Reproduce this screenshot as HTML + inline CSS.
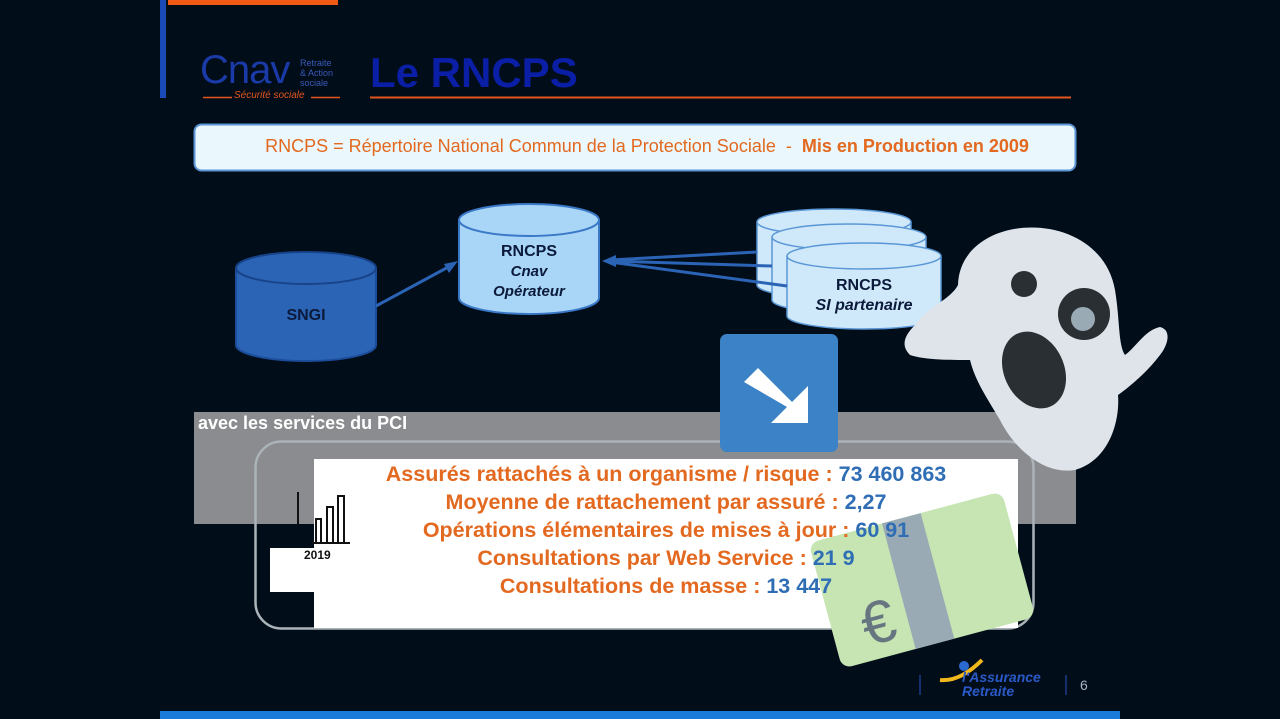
<!DOCTYPE html>
<html><head><meta charset="utf-8"><style>
html,body{margin:0;padding:0;background:#020d1a;}
body{width:1280px;height:719px;position:relative;overflow:hidden;font-family:"Liberation Sans",Arial,sans-serif;}
.a{position:absolute;}
.stats{position:absolute;left:294px;top:460px;width:744px;text-align:center;font-weight:bold;font-size:21.5px;line-height:28px;color:#e2691f;}
.stats b{color:#2f6db5;}
</style></head><body>
<svg class="a" style="left:0;top:0" width="1280" height="719" viewBox="0 0 1280 719">
<rect x="168" y="0" width="170" height="5" fill="#f05a14"/>
<rect x="160" y="0" width="6" height="98" fill="#1a49b8"/>
<line x1="370" y1="97.5" x2="1071" y2="97.5" stroke="#e2561c" stroke-width="2"/>
<line x1="203" y1="97.5" x2="232" y2="97.5" stroke="#e2561c" stroke-width="1.5"/>
<line x1="311" y1="97.5" x2="340" y2="97.5" stroke="#e2561c" stroke-width="1.5"/>
<rect x="194.5" y="124.5" width="881" height="46" rx="7" fill="#eaf7fc" stroke="#5b95d6" stroke-width="2"/>
<path d="M236 268 V345 A70 16 0 0 0 376 345 V268" fill="#2c64b5" stroke="#1b4d9a" stroke-width="2"/>
<ellipse cx="306" cy="268" rx="70" ry="16" fill="#2c64b5" stroke="#17438a" stroke-width="2"/>
<path d="M459 220 V298 A70 16 0 0 0 599 298 V220" fill="#a9d5f6" stroke="#3a78c8" stroke-width="2"/>
<ellipse cx="529" cy="220" rx="70" ry="16" fill="#a9d5f6" stroke="#3a78c8" stroke-width="2"/>
<g fill="#cfe9fb" stroke="#5a97d6" stroke-width="1.5">
<path d="M757 222 V285 A77 13 0 0 0 911 285 V222"/><ellipse cx="834" cy="222" rx="77" ry="13"/>
<path d="M772 237 V300 A77 13 0 0 0 926 300 V237"/><ellipse cx="849" cy="237" rx="77" ry="13"/>
<path d="M787 256 V316 A77 13 0 0 0 941 316 V256"/><ellipse cx="864" cy="256" rx="77" ry="13"/>
</g>
<g stroke="#2c64b5" stroke-width="3" fill="none">
<line x1="376" y1="306" x2="452" y2="265"/>
<line x1="757" y1="252" x2="610" y2="260"/>
<line x1="772" y1="266" x2="610" y2="261"/>
<line x1="787" y1="286" x2="610" y2="262"/>
</g>
<polygon points="458,261 444,264 449,273" fill="#2c64b5"/>
<polygon points="602,261 616,255 616,267" fill="#2c64b5"/>
<rect x="194" y="412" width="882" height="112" fill="#8a8c8f"/>
<rect x="255.5" y="441.5" width="778" height="187" rx="26" fill="none" stroke="#a9b3b8" stroke-width="2.5"/>
<rect x="314" y="459" width="704" height="169" fill="#fff"/>
<rect x="270" y="548" width="44" height="44" fill="#fff"/>
<g stroke="#111" stroke-width="2" fill="none">
<line x1="298" y1="492" x2="298" y2="524"/>
<rect x="316" y="519" width="5" height="24"/><rect x="327" y="507" width="6" height="36"/><rect x="338" y="496" width="6" height="47"/>
<line x1="312" y1="543" x2="350" y2="543"/>
</g>
<rect x="720" y="334" width="118" height="118" rx="7" fill="#3b82c6"/>
<polygon points="744,382 758,368 792,402 808,386 808,423 771,423 787,407" fill="#fff"/>
<path d="M958 285 C960 210 1100 205 1115 290 C1120 320 1118 345 1125 355 C1135 348 1145 330 1160 327 C1172 330 1168 345 1160 355 C1145 375 1125 390 1118 395 C1120 420 1110 460 1075 470 C1045 475 1015 450 1000 420 C985 395 975 380 970 360 C950 360 925 360 910 355 C900 345 905 335 915 325 C930 305 950 300 958 285 Z" fill="#dfe4ea"/>
<circle cx="1024" cy="284" r="13" fill="#292f33"/>
<circle cx="1084" cy="314" r="26" fill="#292f33"/>
<circle cx="1083" cy="319" r="12" fill="#99aab5"/>
<ellipse cx="1034" cy="370" rx="30" ry="40" transform="rotate(-25 1034 370)" fill="#292f33"/>
<g transform="rotate(-15 922 580)">
<rect x="822" y="515" width="200" height="130" rx="10" fill="#c6e5b3"/>
<rect x="898" y="515" width="40" height="130" fill="#99aab5"/>
<text x="852" y="630" font-size="60" fill="#66757f" font-family="Liberation Sans,sans-serif">€</text>
</g>
<rect x="160" y="711" width="960" height="8" fill="#1a7bd8"/>
<line x1="920" y1="675" x2="920" y2="695" stroke="#1a3a8a" stroke-width="1.5"/>
<line x1="1066" y1="675" x2="1066" y2="695" stroke="#1a3a8a" stroke-width="1.5"/>
<path d="M940 680 Q960 682 982 660" stroke="#f2b81c" stroke-width="4" fill="none"/>
<circle cx="964" cy="666" r="5" fill="#2a6ad0"/>
</svg>
<div class="a" style="left:200px;top:48px;font-size:40px;color:#1a3aa8;letter-spacing:-1px;">Cnav</div>
<div class="a" style="left:300px;top:58px;font-size:9px;line-height:10px;color:#3a5ab8;">Retraite<br>&amp; Action<br>sociale</div>
<div class="a" style="left:234px;top:90px;font-size:10px;font-style:italic;color:#e2561c;">Sécurité sociale</div>
<div class="a" style="left:370px;top:49px;font-size:42px;font-weight:bold;color:#0a1fa6;">Le RNCPS</div>
<div class="a" style="left:194px;top:136px;width:906px;text-align:center;font-size:18px;color:#e2691f;">RNCPS = Répertoire National Commun de la Protection Sociale&nbsp; - &nbsp;<b>Mis en Production en 2009</b></div>
<div class="a" style="left:236px;top:307px;width:140px;text-align:center;font-size:16px;font-weight:bold;color:#0b1a3a;">SNGI</div>
<div class="a" style="left:459px;top:242px;width:140px;text-align:center;font-size:16px;font-weight:bold;color:#0b1a3a;line-height:20px;">RNCPS<br><i style="font-size:15px">Cnav<br>Opérateur</i></div>
<div class="a" style="left:787px;top:276px;width:154px;text-align:center;font-size:16px;font-weight:bold;color:#0b1a3a;line-height:20px;">RNCPS<br><i>SI partenaire</i></div>
<div class="a" style="left:198px;top:413px;font-size:18px;font-weight:bold;color:#fff;">avec les services du PCI</div>
<div class="a" style="left:304px;top:548px;font-size:12px;font-weight:bold;color:#111;">2019</div>
<div class="stats"><div>Assurés rattachés à un organisme / risque : <b>73 460 863</b></div><div>Moyenne de rattachement par assuré : <b>2,27</b></div><div>Opérations élémentaires de mises à jour : <b>60 91</b></div><div>Consultations par Web Service : <b>21 9</b></div><div>Consultations de masse : <b>13 447</b></div></div>
<div class="a" style="left:962px;top:670px;font-size:14px;font-style:italic;font-weight:bold;color:#2a5ac8;line-height:14px;">l'Assurance<br>Retraite</div>
<div class="a" style="left:1080px;top:677px;font-size:14px;color:#aab4c8;">6</div>
</body></html>
